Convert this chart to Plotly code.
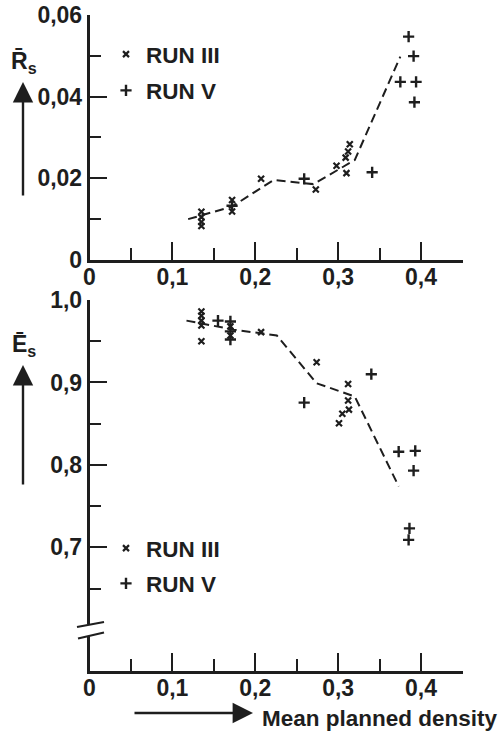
import plotly.graph_objects as go
from plotly.subplots import make_subplots

# ---------------- data ----------------
# Top panel: mean R_s vs mean planned density
top_run3_x = [0.135, 0.135, 0.135, 0.135, 0.172, 0.172, 0.207, 0.273, 0.298, 0.309, 0.312, 0.314, 0.310]
top_run3_y = [0.0117, 0.0104, 0.0092, 0.0082, 0.0146, 0.0118, 0.0198, 0.0172, 0.0230, 0.0250, 0.0265, 0.0283, 0.0212]
top_run5_x = [0.172, 0.259, 0.341, 0.385, 0.391, 0.375, 0.394, 0.392]
top_run5_y = [0.0132, 0.0198, 0.0214, 0.0547, 0.0499, 0.0436, 0.0436, 0.0386]
top_fit_x = [0.119, 0.172, 0.222, 0.270, 0.320, 0.375]
top_fit_y = [0.0099, 0.0130, 0.0195, 0.0185, 0.0244, 0.0498]

# Bottom panel: mean E_s vs mean planned density
bot_run3_x = [0.135, 0.135, 0.135, 0.135, 0.135, 0.170, 0.170, 0.207, 0.274, 0.312, 0.312, 0.313, 0.305, 0.301]
bot_run3_y = [0.986, 0.981, 0.975, 0.969, 0.950, 0.968, 0.957, 0.961, 0.9245, 0.898, 0.878, 0.867, 0.862, 0.8505]
bot_run5_x = [0.155, 0.170, 0.170, 0.170, 0.259, 0.340, 0.373, 0.393, 0.391, 0.386, 0.385]
bot_run5_y = [0.975, 0.974, 0.962, 0.952, 0.8755, 0.910, 0.816, 0.817, 0.793, 0.723, 0.709]
bot_fit_x = [0.117, 0.174, 0.226, 0.274, 0.320, 0.373]
bot_fit_y = [0.975, 0.964, 0.957, 0.899, 0.883, 0.774]

x_ticks = [0, 0.1, 0.2, 0.3, 0.4]
x_ticktext = ["0", "0,1", "0,2", "0,3", "0,4"]
x_minor = [0.05, 0.15, 0.25, 0.35, 0.45]
top_y_ticks = [0, 0.02, 0.04, 0.06]
top_y_ticktext = ["0", "0,02", "0,04", "0,06"]
top_y_minor = [0.01, 0.03, 0.05]
bot_y_ticks = [0.7, 0.8, 0.9, 1.0]
bot_y_ticktext = ["0,7", "0,8", "0,9", "1,0"]
bot_y_minor = [0.65, 0.75, 0.85, 0.95]

# ---------------- styling ----------------
W, H = 502, 735
INK = "#1e1e1e"
FONT = "Liberation Sans, Arial, sans-serif"


def px(v):
    return v / W


def py(v):
    return 1 - v / H


fig = make_subplots(rows=2, cols=1)

mk3 = dict(symbol="x-thin", size=6, color=INK, line=dict(width=2.2, color=INK))
mk5 = dict(symbol="cross-thin", size=8, color=INK, line=dict(width=2.4, color=INK))

fig.add_trace(go.Scatter(x=top_run3_x, y=top_run3_y, mode="markers", marker=mk3,
                         name="RUN III", legend="legend", legendgroup="a"), row=1, col=1)
fig.add_trace(go.Scatter(x=top_run5_x, y=top_run5_y, mode="markers", marker=mk5,
                         name="RUN V", legend="legend", legendgroup="b"), row=1, col=1)
fig.add_trace(go.Scatter(x=top_fit_x, y=top_fit_y, mode="lines", showlegend=False,
                         line=dict(color=INK, width=2, dash="9px,5px")), row=1, col=1)

fig.add_trace(go.Scatter(x=bot_run3_x, y=bot_run3_y, mode="markers", marker=mk3,
                         name="RUN III", legend="legend2", legendgroup="c"), row=2, col=1)
fig.add_trace(go.Scatter(x=bot_run5_x, y=bot_run5_y, mode="markers", marker=mk5,
                         name="RUN V", legend="legend2", legendgroup="d"), row=2, col=1)
fig.add_trace(go.Scatter(x=bot_fit_x, y=bot_fit_y, mode="lines", showlegend=False,
                         line=dict(color=INK, width=2, dash="9px,5px")), row=2, col=1)

tickfont = dict(family=FONT, size=23, color=INK, weight="bold")
axis_common = dict(showline=True, linecolor=INK, linewidth=2.5, ticks="inside",
                   tickcolor=INK, tickwidth=2, showgrid=False, zeroline=False,
                   tickfont=tickfont, tickmode="array", automargin=False)

xdom = [px(89.5), px(462.5)]
fig.update_xaxes(domain=xdom, range=[0, 0.45], tickvals=x_ticks, ticktext=x_ticktext,
                 ticklen=18, ticklabelstandoff=-5,
                 minor=dict(tickvals=x_minor, ticklen=12, tickwidth=2,
                            tickcolor=INK, ticks="inside"),
                 **axis_common)
fig.update_yaxes(domain=[py(259.5), py(15)], range=[0, 0.06], tickvals=top_y_ticks,
                 ticktext=top_y_ticktext, ticklen=18,
                 minor=dict(tickvals=top_y_minor, ticklen=12, tickwidth=2,
                            tickcolor=INK, ticks="inside"),
                 row=1, col=1, **axis_common)
fig.update_yaxes(domain=[py(671), py(300)], range=[0.55, 1.0], tickvals=bot_y_ticks,
                 ticktext=bot_y_ticktext, ticklen=18,
                 minor=dict(tickvals=bot_y_minor, ticklen=12, tickwidth=2,
                            tickcolor=INK, ticks="inside"),
                 row=2, col=1, **axis_common)

legfont = dict(family=FONT, size=22.5, color=INK, weight="bold")
fig.update_layout(
    width=W, height=H, autosize=False,
    margin=dict(l=0, r=0, t=0, b=0, autoexpand=False),
    paper_bgcolor="white", plot_bgcolor="white",
    legend=dict(x=px(106), y=py(33), xanchor="left", yanchor="top",
                font=legfont, bgcolor="rgba(0,0,0,0)", tracegroupgap=4,
                itemwidth=30),
    legend2=dict(x=px(106), y=py(527), xanchor="left", yanchor="top",
                 font=legfont, bgcolor="rgba(0,0,0,0)", tracegroupgap=3,
                 itemwidth=30),
)

# axis break on the lower y axis
fig.add_shape(type="rect", xref="paper", yref="paper",
              x0=px(84), x1=px(96), y0=py(636), y1=py(624),
              fillcolor="white", line=dict(width=0), layer="above")
for (a, b) in [((77, 627), (104, 622)), ((78, 638.5), (104, 632.5))]:
    fig.add_shape(type="line", xref="paper", yref="paper",
                  x0=px(a[0]), y0=py(a[1]), x1=px(b[0]), y1=py(b[1]),
                  line=dict(color=INK, width=2.2), layer="above")

# axis titles with arrows
titlefont = dict(family=FONT, size=23, color=INK, weight="bold")
fig.add_annotation(xref="paper", yref="paper", x=px(24), y=py(62), text="R\u0304<sub>s</sub>",
                   showarrow=False, font=titlefont, xanchor="center", yanchor="middle")
fig.add_annotation(xref="paper", yref="paper", x=px(23), y=py(82), ax=0, ay=115,
                   text="", showarrow=True, arrowhead=2, arrowsize=1.7, arrowwidth=2.4,
                   arrowcolor=INK)
fig.add_annotation(xref="paper", yref="paper", x=px(24), y=py(346), text="E\u0304<sub>s</sub>",
                   showarrow=False, font=titlefont, xanchor="center", yanchor="middle")
fig.add_annotation(xref="paper", yref="paper", x=px(23), y=py(365), ax=0, ay=121,
                   text="", showarrow=True, arrowhead=2, arrowsize=1.7, arrowwidth=2.4,
                   arrowcolor=INK)
fig.add_annotation(xref="paper", yref="paper", x=px(253), y=py(713), ax=-120, ay=0,
                   text="", showarrow=True, arrowhead=2, arrowsize=1.7, arrowwidth=2.4,
                   arrowcolor=INK)
fig.add_annotation(xref="paper", yref="paper", x=px(260), y=py(718), text="Mean planned density",
                   showarrow=False, font=dict(family=FONT, size=22.5, color=INK, weight="bold"),
                   xanchor="left", yanchor="middle")

fig.write_html("out.html")
